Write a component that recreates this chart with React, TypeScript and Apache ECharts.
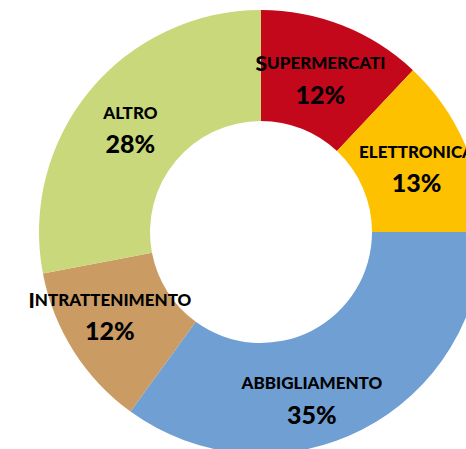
import React, { useEffect, useRef } from "react";
import * as echarts from "echarts";

const categories = ["SUPERMERCATI", "ELETTRONICA", "ABBIGLIAMENTO", "INTRATTENIMENTO", "ALTRO"];
const values = [12, 13, 35, 12, 28];
const colors = ["#C3081C", "#FDC100", "#6F9FD3", "#CB9B64", "#C9D87A"];
const bigInitial = [true, false, false, true, false];
const labelShift = [
  [-3, 4],
  [0, 2],
  [-26, 15],
  [-8, -8],
  [0, 4],
];

export default function App() {
  const ref = useRef<HTMLDivElement>(null);
  useEffect(() => {
    const chart = echarts.init(ref.current!, null, { renderer: "svg" });
    chart.setOption({
      animation: false,
      series: [
        {
          type: "pie",
          center: [261, 232],
          radius: [111, 222],
          startAngle: 90,
          clockwise: true,
          avoidLabelOverlap: false,
          label: {
            show: true,
            position: "inside",
            fontFamily: "Lato",
            formatter: (p: any) => {
              const name: string = p.name;
              const head = bigInitial[p.dataIndex]
                ? `{big|${name[0]}}{n|${name.slice(1)}}`
                : `{n|${name}}`;
              return `${head}\n{p|${p.value}%}`;
            },
            rich: {
              big: { fontFamily: "Lato", fontWeight: 900, fontSize: 21, color: "#000", lineHeight: 31 },
              n: { fontFamily: "Lato", fontWeight: 900, fontSize: 17, color: "#000", lineHeight: 31 },
              p: { fontFamily: "Lato", fontWeight: 900, fontSize: 25, color: "#000", lineHeight: 31 },
            },
          },
          labelLayout: (params: any) => ({
            dx: labelShift[params.dataIndex][0],
            dy: labelShift[params.dataIndex][1],
          }),
          labelLine: { show: false },
          emphasis: { disabled: true },
          data: categories.map((c, i) => ({
            name: c,
            value: values[i],
            itemStyle: { color: colors[i], borderWidth: 0 },
          })),
        },
      ],
    });
    return () => chart.dispose();
  }, []);
  return (
    <div
      ref={ref}
      style={{ position: "fixed", left: 0, top: 0, width: 466, height: 449, background: "#fff" }}
    />
  );
}
